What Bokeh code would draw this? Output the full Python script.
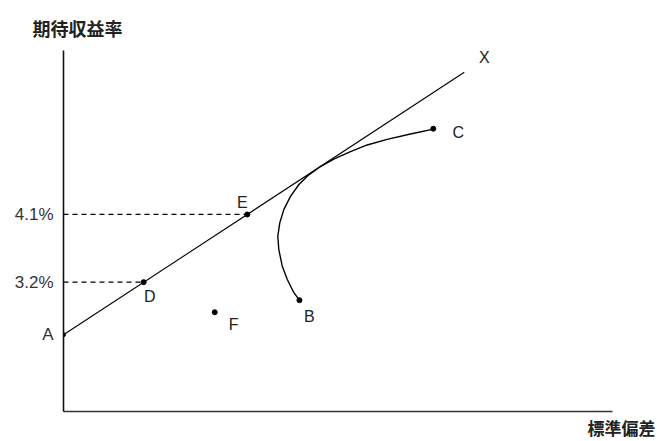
from bokeh.plotting import figure
from bokeh.models import Range1d, FixedTicker, Title, ColumnDataSource
from bokeh.embed import file_html
from bokeh.resources import INLINE
from bokeh.core.properties import value

# ---- data (x: standard deviation, y: expected return %) ----
cml_x = [0.0, 5.3]
cml_y = [2.5, 5.99]

point_names = ["E", "D", "F", "B", "C"]
point_x = [2.43, 1.06, 2.00, 3.12, 4.89]
point_y = [4.10, 3.20, 2.80, 2.96, 5.24]

frontier_x = [3.125, 3.045, 2.958, 2.892, 2.847, 2.834, 2.860, 2.913, 3.002, 3.111,
              3.244, 3.398, 3.574, 3.795, 4.016, 4.280, 4.588, 4.893]
frontier_y = [2.952, 3.063, 3.239, 3.415, 3.635, 3.811, 3.988, 4.164, 4.340, 4.495,
              4.627, 4.737, 4.835, 4.935, 5.024, 5.099, 5.169, 5.235]

dash_x_end = [2.43, 1.06]
dash_y = [4.1, 3.2]

tick_values = [2.5, 3.2, 4.1]
tick_labels = ["A", "3.2%", "4.1%"]

y_label = "期待収益率"
x_label = "標準偏差"

FONT = "Liberation Sans"
CJK = "Noto Sans CJK JP"

p = figure(width=657, height=441, output_backend="svg", toolbar_location=None,
           x_range=Range1d(0, 7.26), y_range=Range1d(1.48, 6.28),
           min_border_left=63, min_border_right=45, min_border_top=50, min_border_bottom=28)
p.outline_line_color = None
p.xgrid.visible = False
p.ygrid.visible = False

# axes
p.yaxis.ticker = FixedTicker(ticks=tick_values)
p.yaxis.major_label_overrides = {v: t for v, t in zip(tick_values, tick_labels)}
p.yaxis.major_tick_out = 0
p.yaxis.major_tick_in = 0
p.yaxis.minor_tick_out = 0
p.yaxis.minor_tick_in = 0
p.yaxis.major_label_standoff = 10
p.yaxis.major_label_text_font = FONT
p.yaxis.major_label_text_font_size = "17px"
p.yaxis.major_label_text_color = "#333333"
p.yaxis.axis_line_width = 1.6
p.yaxis.axis_line_color = "#111111"

p.xaxis.ticker = FixedTicker(ticks=[])
p.xaxis.major_tick_out = 0
p.xaxis.minor_tick_out = 0
p.xaxis.major_label_text_font_size = "0px"
p.xaxis.axis_line_width = 1.6
p.xaxis.axis_line_color = "#333333"

# axis titles
p.add_layout(Title(text=y_label, align="left", offset=-31, standoff=19,
                   text_font=CJK, text_font_size="18px", text_font_style="bold",
                   text_color="#222222"), "above")
p.add_layout(Title(text=x_label, align="right", offset=-43, standoff=3,
                   text_font=CJK, text_font_size="17px", text_font_style="bold",
                   text_color="#222222"), "below")

# dashed guide lines
p.segment(x0=[0.0] * len(dash_y), y0=dash_y, x1=dash_x_end, y1=dash_y,
          line_color="black", line_width=1.2, line_dash="5 4")

# capital market line
p.line(cml_x, cml_y, line_color="black", line_width=1.1)

# efficient frontier curve B-C
p.line(frontier_x, frontier_y, line_color="black", line_width=1.4)

# points
p.scatter(point_x, point_y, size=5, color="black")
p.scatter([cml_x[0]], [cml_y[0]], size=4, color="black")

# point letters
src = ColumnDataSource(dict(
    x=point_x + [cml_x[1]],
    y=point_y + [cml_y[1]],
    t=point_names + ["X"],
    dx=[-5, 6, 19, 10, 25, 20],
    dy=[-12, 14, 12, 16, 4, -15],
))
p.text(x="x", y="y", text="t", x_offset="dx", y_offset="dy", source=src,
       text_font=value(FONT), text_font_size="16px", text_color="#222222",
       text_align="center", text_baseline="middle")

open("out.html", "w").write(file_html(p, INLINE))
